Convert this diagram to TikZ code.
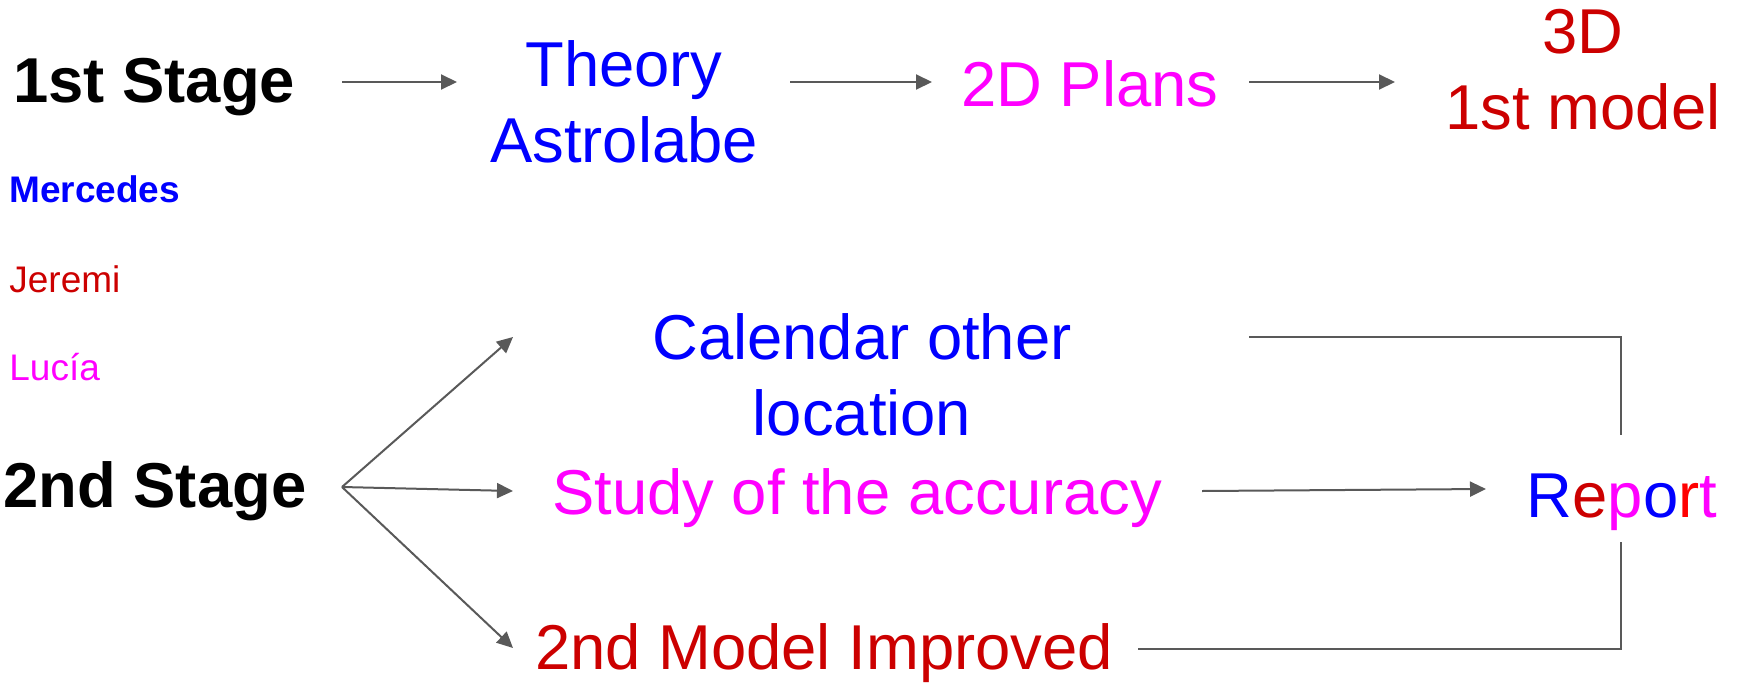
\documentclass[tikz,border=0pt]{standalone}
\usepackage{fontspec}
\setmainfont{Liberation Sans}
\usepackage{tikz}
\usetikzlibrary{arrows.meta}

\definecolor{plum}{HTML}{FF00FF}
\definecolor{brick}{HTML}{CC0000}
\definecolor{scarlet}{HTML}{FF0000}
\definecolor{wire}{HTML}{595959}

\tikzset{
	big/.style={inner sep=0pt, font=\fontsize{31.7}{38}\selectfont, align=center},
	stagelabel/.style={inner sep=0pt, font=\fontsize{31.7}{38}\selectfont\bfseries, anchor=base west},
	who/.style={inner sep=0pt, font=\fontsize{18.5}{22}\selectfont, anchor=base west},
	link/.style={wire, line width=1pt, -{Triangle[length=8pt,width=7.5pt]}},
	wirebend/.style={wire, line width=1pt}
}

\begin{document}
\begin{tikzpicture}[x=0.5pt,y=-0.5pt]
		\useasboundingbox (0,0) rectangle (1740,686);
		%draw first stage
		\node[stagelabel] (stage1) at (13,102) {1st Stage};
		\node[big, blue] (theory) at (624,102) {Theory\\Astrolabe};
		\node[big, plum, anchor=base] (plans) at (1090,106) {2D Plans};
		\node[big, brick] (model1) at (1583,70) {3D\\1st model};
		%draw names
		\node[who, blue, font=\fontsize{18.5}{22}\selectfont\bfseries] (merc) at (9,202) {Mercedes};
		\node[who, brick] (jeremi) at (9,292) {Jeremi};
		\node[who, plum] (lucia) at (9,380) {Lucía};
		%draw second stage
		\node[stagelabel] (stage2) at (3,507) {2nd Stage};
		\node[big, blue] (calendar) at (862,375) {Calendar other\\location};
		\node[big, plum, anchor=base] (study) at (857,514) {Study of the accuracy};
		\node[big, brick, anchor=base] (improved) at (824,669) {2nd Model Improved};
		\node[big, anchor=base] (report) at (1622,517) {{\color{blue}R}{\color{brick}e}{\color{plum}p}{\color{blue}o}{\color{scarlet}r}{\color{plum}t}};
		%draw arrow ends
		\coordinate (s1out) at (342,82);
		\coordinate (thin) at (457,82);
		\coordinate (thout) at (790,82);
		\coordinate (plin) at (932,82);
		\coordinate (plout) at (1249,82);
		\coordinate (mdin) at (1395,82);
		\coordinate (fan) at (342,487);
		\coordinate (calin) at (513,337);
		\coordinate (stin) at (513,491);
		\coordinate (imin) at (513,648);
		\coordinate (calout) at (1249,337);
		\coordinate (stout) at (1202,491);
		\coordinate (imout) at (1138,649);
		\coordinate (reptop) at (1621,435);
		\coordinate (repbot) at (1621,542);
		\coordinate (repin) at (1486,489);
		%draw arrows
		\draw[link] (s1out) -- (thin);
		\draw[link] (thout) -- (plin);
		\draw[link] (plout) -- (mdin);
		\draw[link] (fan) -- (calin);
		\draw[link] (fan) -- (stin);
		\draw[link] (fan) -- (imin);
		\draw[link] (stout) -- (repin);
		\draw[wirebend] (calout) -| (reptop);
		\draw[wirebend] (imout) -| (repbot);
	\end{tikzpicture}
\end{document}
